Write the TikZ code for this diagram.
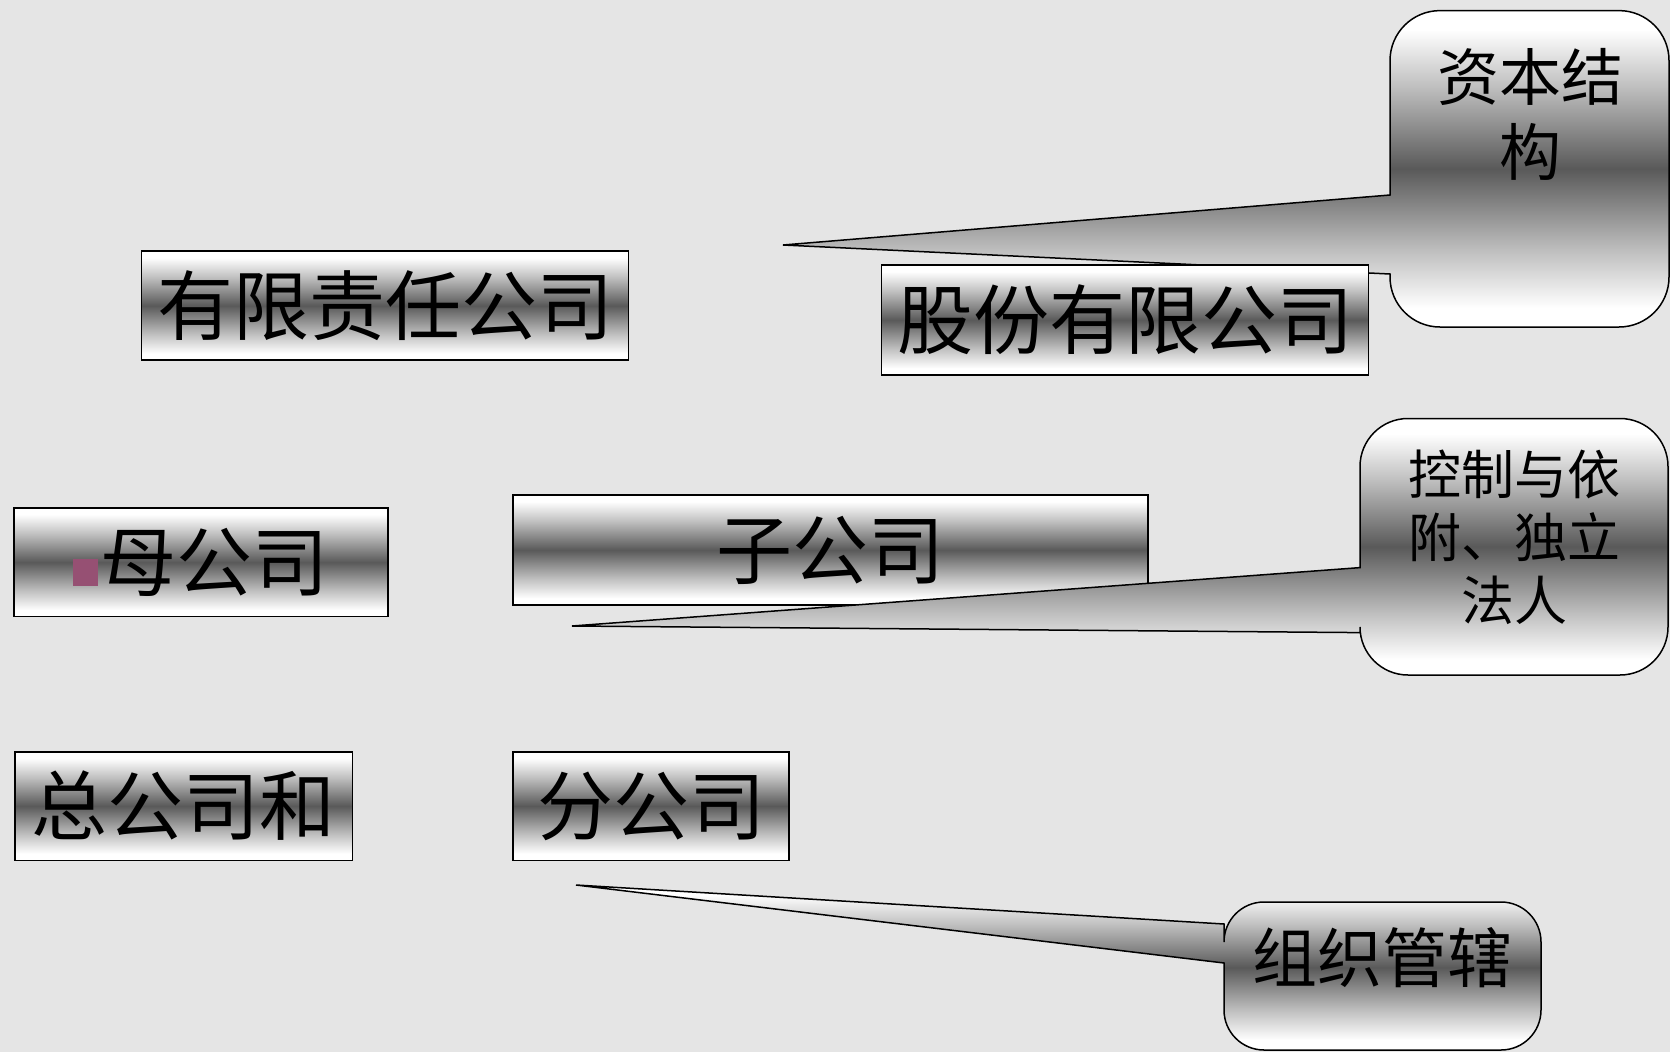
\documentclass[tikz,border=0pt]{standalone}
\usepackage{fontspec}
\setmainfont{Noto Sans CJK SC}
\definecolor{bg}{RGB}{229,229,229}
\definecolor{bul}{RGB}{150,80,115}
\pgfdeclareverticalshading{metal}{100bp}{color(0bp)=(white); color(25bp)=(white); color(28bp)=(white); color(37bp)=(black!25); color(50bp)=(black!65); color(63bp)=(black!25); color(72bp)=(white); color(75bp)=(white); color(100bp)=(white)}
\tikzset{
  box/.style={draw=black, line width=1.5pt, shade, shading=metal, inner sep=0pt,
    font=\fontsize{76}{82}\selectfont},
  callout/.style={draw=black, line width=1.5pt, shade, shading=metal},
  ctext/.style={align=center, inner sep=0pt},
}
\newcommand{\calloutpath}[8]{%
  \path[callout] (#1,#2) -- (#3,#7) -- (#3,#4+\crad)
    arc[start angle=180, end angle=270, radius=\crad] -- (#5-\crad,#4)
    arc[start angle=270, end angle=360, radius=\crad] -- (#5,#6-\crad)
    arc[start angle=0, end angle=90, radius=\crad] -- (#3+\crad,#6)
    arc[start angle=90, end angle=180, radius=\crad] -- (#3,#8) -- cycle;}
\begin{document}
\begin{tikzpicture}[x=1pt,y=-1pt]
\useasboundingbox (0,0) rectangle (1670,1052);
\fill[bg] (0,0) rectangle (1670,1052);

% callout 1
\def\crad{50}
\calloutpath{783}{245}{1390}{10.6}{1669}{327}{195}{274}
\node[ctext, font=\fontsize{62}{75}\selectfont] (zbjg) at (1530,114.5) {资本结\\构};

% boxes
\node[box, minimum width=487pt, minimum height=110pt] (gfyx) at (1125,320) {股份有限公司};
\node[box, minimum width=487pt, minimum height=109pt] (ylgs) at (385,305.7) {有限责任公司};
\node[box, minimum width=374pt, minimum height=108.6pt] (mgs) at (200.8,562.3) {\textcolor{bul}{\rule[4pt]{25pt}{27pt}}\hspace{2pt}母公司};
\node[box, minimum width=635pt, minimum height=110pt] (zgs) at (830.5,550) {子公司};

% callout 2
\def\crad{48}
\calloutpath{572}{626}{1360}{418.5}{1668}{675}{567.6}{632.6}
\node[ctext, font=\fontsize{53}{63}\selectfont] (kzyf) at (1514,537) {控制与依\\附、独立\\法人};

% lower boxes
\node[box, minimum width=337.5pt, minimum height=108.5pt] (zgsh) at (183.8,806) {总公司和};
\node[box, minimum width=276pt, minimum height=108.5pt] (fgs) at (651,806) {分公司};

% callout 3
\def\crad{40}
\calloutpath{576}{885}{1224}{902}{1541}{1050}{924}{963}
\node[ctext, font=\fontsize{65}{75}\selectfont] (zzgx) at (1382,958) {组织管辖};
\end{tikzpicture}
\end{document}
